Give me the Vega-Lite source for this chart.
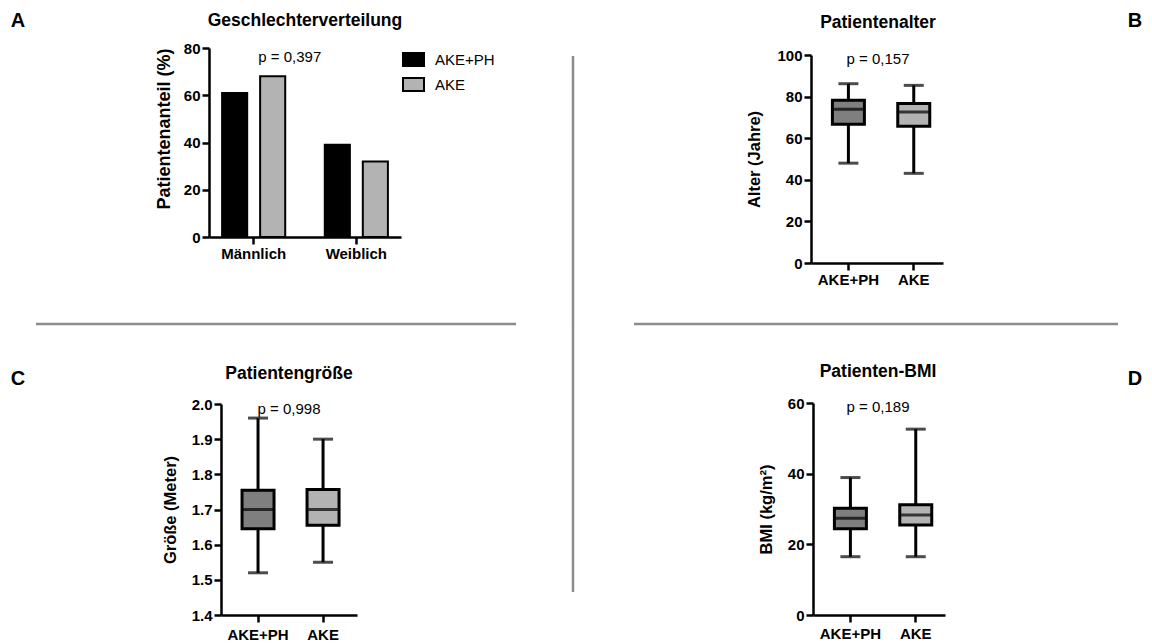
{
  "$schema": "https://vega.github.io/schema/vega-lite/v6.json",
  "padding": 0,
  "background": "white",
  "bounds": "flush",
  "spacing": 0,
  "columns": 11,
  "align": "each",
  "resolve": {"scale": {"color": "independent"}, "legend": {"color": "independent"}},
  "config": {
    "font": "Liberation Sans",
    "view": {"stroke": null},
    "axis": {"domainColor": "#000", "domainWidth": 2.5, "tickColor": "#000", "tickWidth": 2.5, "tickSize": 7, "labelColor": "#000", "labelFontSize": 15, "labelFontWeight": "bold", "labelPadding": 2, "labelOverlap": false, "labelBound": false, "titleColor": "#000", "titleFontSize": 16.5, "titleFontWeight": "bold", "titlePadding": 13, "grid": false},
    "axisX": {"labelAngle": 0},
    "title": {"fontSize": 17.5, "fontWeight": "bold", "color": "#000", "anchor": "middle", "frame": "group"},
    "text": {"color": "#000"},
    "rect": {"opacity": 0}
  },
  "concat": [
    {"width": 36, "height": 41, "data": {"values": [{"t": "A"}]}, "mark": {"type": "text", "fontSize": 20, "fontWeight": "bold"}, "encoding": {"text": {"field": "t", "type": "nominal"}}},
    {"width": 173, "height": 48, "data": {"values": [{}]}, "mark": "rect", "encoding": {}},
    {"width": 192, "height": 1, "data": {"values": [{}]}, "mark": "rect", "encoding": {}},
    {"width": 115, "height": 1, "data": {"values": [{}]}, "mark": "rect", "encoding": {}},
    {"width": 56, "height": 1, "data": {"values": [{}]}, "mark": "rect", "encoding": {}},
    {"width": 2, "height": 1, "data": {"values": [{}]}, "mark": "rect", "encoding": {}},
    {"width": 60, "height": 1, "data": {"values": [{}]}, "mark": "rect", "encoding": {}},
    {"width": 177, "height": 1, "data": {"values": [{}]}, "mark": "rect", "encoding": {}},
    {"width": 134, "height": 1, "data": {"values": [{}]}, "mark": "rect", "encoding": {}},
    {"width": 173, "height": 1, "data": {"values": [{}]}, "mark": "rect", "encoding": {}},
    {"width": 34, "height": 41, "data": {"values": [{"t": "B"}]}, "mark": {"type": "text", "fontSize": 20, "fontWeight": "bold"}, "encoding": {"text": {"field": "t", "type": "nominal"}}},

    {"width": 1, "height": 1, "data": {"values": [{}]}, "mark": "rect", "encoding": {}},
    {"width": 1, "height": 1, "data": {"values": [{}]}, "mark": "rect", "encoding": {}},
    {
      "width": 192, "height": 189,
      "title": {"text": "Geschlechterverteilung", "offset": 12},
      "data": {"values": [
        {"Geschlecht": "Männlich", "Gruppe": "AKE+PH", "Anteil": 61},
        {"Geschlecht": "Männlich", "Gruppe": "AKE", "Anteil": 68},
        {"Geschlecht": "Weiblich", "Gruppe": "AKE+PH", "Anteil": 39},
        {"Geschlecht": "Weiblich", "Gruppe": "AKE", "Anteil": 32}
      ]},
      "layer": [
        {
          "mark": {"type": "bar", "stroke": "#000", "strokeWidth": 2},
          "encoding": {
            "x": {"field": "Geschlecht", "type": "nominal", "sort": ["Männlich", "Weiblich"], "scale": {"paddingInner": 0.2, "paddingOuter": 0.035}, "axis": {"title": null}},
            "xOffset": {"field": "Gruppe", "type": "nominal", "sort": ["AKE+PH", "AKE"], "scale": {"paddingInner": 0.34, "paddingOuter": 0.25}},
            "y": {"field": "Anteil", "type": "quantitative", "scale": {"domain": [0, 80], "nice": false}, "axis": {"title": "Patientenanteil (%)", "values": [0, 20, 40, 60, 80], "labelOverlap": false, "titlePadding": 10, "titleFontSize": 18, "titleAnchor": "end"}},
            "color": {"field": "Gruppe", "type": "nominal", "sort": ["AKE+PH", "AKE"], "scale": {"domain": ["AKE+PH", "AKE"], "range": ["#000000", "#b3b3b3"]},
              "legend": {"title": null, "orient": "right", "offset": 1, "padding": 0, "symbolType": "M-1,-0.62H1V0.62H-1Z", "symbolSize": 441, "symbolStrokeColor": "#000", "symbolStrokeWidth": 2, "symbolOpacity": 1, "labelFontSize": 15, "labelColor": "#000", "labelOffset": 10, "rowPadding": 2}}
          }
        },
        {
          "data": {"values": [{"p": "p = 0,397"}]},
          "mark": {"type": "text", "fontSize": 15},
          "encoding": {"text": {"field": "p", "type": "nominal"}, "x": {"datum": "Männlich", "bandPosition": 0.94}, "y": {"datum": 76}}
        }
      ]
    },
    {"width": 1, "height": 1, "data": {"values": [{}]}, "mark": "rect", "encoding": {}},
    {"width": 1, "height": 1, "data": {"values": [{}]}, "mark": "rect", "encoding": {}},
    {"width": 2, "height": 275, "data": {"values": [{}]}, "mark": {"type": "rule", "color": "#8c8c8c", "strokeWidth": 2.5},
      "encoding": {"x": {"datum": 0.5, "type": "quantitative", "scale": {"domain": [0, 1]}, "axis": null}, "y": {"datum": 0, "type": "quantitative", "scale": {"domain": [0, 1], "range": [8, 275]}, "axis": null}, "y2": {"datum": 1}}},
    {"width": 1, "height": 1, "data": {"values": [{}]}, "mark": "rect", "encoding": {}},
    {"width": 1, "height": 1, "data": {"values": [{}]}, "mark": "rect", "encoding": {}},
    {
      "width": 134, "height": 215,
      "title": {"text": "Patientenalter", "offset": 17},
      "data": {"values": [
        {"Gruppe": "AKE+PH", "min": 48, "q1": 66.7, "median": 73.9, "q3": 78.2, "max": 86.2},
        {"Gruppe": "AKE", "min": 43.1, "q1": 65.8, "median": 72.6, "q3": 76.7, "max": 85.4}
      ]},
      "layer": [
        {"mark": {"type": "rule", "color": "#000", "strokeWidth": 3},
          "encoding": {
            "x": {"field": "Gruppe", "type": "nominal", "sort": ["AKE+PH", "AKE"], "scale": {"range": [0, 132], "paddingInner": 0.5, "paddingOuter": 0.26, "align": 0.62}, "axis": {"title": null}},
            "y": {"field": "min", "type": "quantitative", "scale": {"domain": [0, 100], "range": [215, 7], "nice": false}, "axis": {"title": "Alter (Jahre)", "values": [0, 20, 40, 60, 80, 100], "labelOverlap": false, "titlePadding": 14}},
            "y2": {"field": "max"}}},
        {"mark": {"type": "bar", "width": 32, "stroke": "#000", "strokeWidth": 3, "opacity": 1},
          "encoding": {
            "x": {"field": "Gruppe", "type": "nominal", "sort": ["AKE+PH", "AKE"]},
            "y": {"field": "q1", "type": "quantitative"}, "y2": {"field": "q3"},
            "fill": {"field": "Gruppe", "type": "nominal", "scale": {"domain": ["AKE+PH", "AKE"], "range": ["#7f7f7f", "#b3b3b3"]}, "legend": null}}},
        {"mark": {"type": "tick", "color": "#000", "thickness": 3, "size": 32},
          "encoding": {"x": {"field": "Gruppe", "type": "nominal", "sort": ["AKE+PH", "AKE"]}, "y": {"field": "median", "type": "quantitative"}}},
        {"mark": {"type": "tick", "color": "#000", "thickness": 3, "size": 20},
          "encoding": {"x": {"field": "Gruppe", "type": "nominal", "sort": ["AKE+PH", "AKE"]}, "y": {"field": "min", "type": "quantitative"}}},
        {"mark": {"type": "tick", "color": "#000", "thickness": 3, "size": 20},
          "encoding": {"x": {"field": "Gruppe", "type": "nominal", "sort": ["AKE+PH", "AKE"]}, "y": {"field": "max", "type": "quantitative"}}},
        {"data": {"values": [{"p": "p = 0,157"}]}, "mark": {"type": "text", "fontSize": 15},
          "encoding": {"text": {"field": "p", "type": "nominal"}, "y": {"datum": 98}}}
      ]
    },
    {"width": 1, "height": 1, "data": {"values": [{}]}, "mark": "rect", "encoding": {}},
    {"width": 1, "height": 1, "data": {"values": [{}]}, "mark": "rect", "encoding": {}},

    {"width": 1, "height": 1, "data": {"values": [{}]}, "mark": "rect", "encoding": {}},
    {"width": 173, "height": 2, "data": {"values": [{}]}, "mark": {"type": "rule", "color": "#8c8c8c", "strokeWidth": 2.5},
      "encoding": {"x": {"datum": 0, "type": "quantitative", "scale": {"domain": [0, 1]}, "axis": null}, "x2": {"datum": 1}, "y": {"datum": 0.5, "type": "quantitative", "scale": {"domain": [0, 1]}, "axis": null}}},
    {"width": 192, "height": 2, "data": {"values": [{}]}, "mark": {"type": "rule", "color": "#8c8c8c", "strokeWidth": 2.5},
      "encoding": {"x": {"datum": 0, "type": "quantitative", "scale": {"domain": [0, 1]}, "axis": null}, "x2": {"datum": 1}, "y": {"datum": 0.5, "type": "quantitative", "scale": {"domain": [0, 1]}, "axis": null}}},
    {"width": 115, "height": 2, "data": {"values": [{}]}, "mark": {"type": "rule", "color": "#8c8c8c", "strokeWidth": 2.5},
      "encoding": {"x": {"datum": 0, "type": "quantitative", "scale": {"domain": [0, 1]}, "axis": null}, "x2": {"datum": 1}, "y": {"datum": 0.5, "type": "quantitative", "scale": {"domain": [0, 1]}, "axis": null}}},
    {"width": 1, "height": 1, "data": {"values": [{}]}, "mark": "rect", "encoding": {}},
    {"width": 2, "height": 2, "data": {"values": [{}]}, "mark": {"type": "rule", "color": "#8c8c8c", "strokeWidth": 2.5},
      "encoding": {"x": {"datum": 0.5, "type": "quantitative", "scale": {"domain": [0, 1]}, "axis": null}, "y": {"datum": 0, "type": "quantitative", "scale": {"domain": [0, 1]}, "axis": null}, "y2": {"datum": 1}}},
    {"width": 1, "height": 1, "data": {"values": [{}]}, "mark": "rect", "encoding": {}},
    {"width": 177, "height": 2, "data": {"values": [{}]}, "mark": {"type": "rule", "color": "#8c8c8c", "strokeWidth": 2.5},
      "encoding": {"x": {"datum": 0, "type": "quantitative", "scale": {"domain": [0, 1]}, "axis": null}, "x2": {"datum": 1}, "y": {"datum": 0.5, "type": "quantitative", "scale": {"domain": [0, 1]}, "axis": null}}},
    {"width": 134, "height": 2, "data": {"values": [{}]}, "mark": {"type": "rule", "color": "#8c8c8c", "strokeWidth": 2.5},
      "encoding": {"x": {"datum": 0, "type": "quantitative", "scale": {"domain": [0, 1]}, "axis": null}, "x2": {"datum": 1}, "y": {"datum": 0.5, "type": "quantitative", "scale": {"domain": [0, 1]}, "axis": null}}},
    {"width": 173, "height": 2, "data": {"values": [{}]}, "mark": {"type": "rule", "color": "#8c8c8c", "strokeWidth": 2.5},
      "encoding": {"x": {"datum": 0, "type": "quantitative", "scale": {"domain": [0, 1]}, "axis": null}, "x2": {"datum": 1}, "y": {"datum": 0.5, "type": "quantitative", "scale": {"domain": [0, 1]}, "axis": null}}},
    {"width": 1, "height": 1, "data": {"values": [{}]}, "mark": "rect", "encoding": {}},

    {"width": 1, "height": 1, "data": {"values": [{}]}, "mark": "rect", "encoding": {}},
    {"width": 1, "height": 1, "data": {"values": [{}]}, "mark": "rect", "encoding": {}},
    {"width": 1, "height": 1, "data": {"values": [{}]}, "mark": "rect", "encoding": {}},
    {"width": 1, "height": 1, "data": {"values": [{}]}, "mark": "rect", "encoding": {}},
    {"width": 1, "height": 1, "data": {"values": [{}]}, "mark": "rect", "encoding": {}},
    {"width": 2, "height": 34, "data": {"values": [{}]}, "mark": {"type": "rule", "color": "#8c8c8c", "strokeWidth": 2.5},
      "encoding": {"x": {"datum": 0.5, "type": "quantitative", "scale": {"domain": [0, 1]}, "axis": null}, "y": {"datum": 0, "type": "quantitative", "scale": {"domain": [0, 1]}, "axis": null}, "y2": {"datum": 1}}},
    {"width": 1, "height": 1, "data": {"values": [{}]}, "mark": "rect", "encoding": {}},
    {"width": 1, "height": 1, "data": {"values": [{}]}, "mark": "rect", "encoding": {}},
    {"width": 1, "height": 1, "data": {"values": [{}]}, "mark": "rect", "encoding": {}},
    {"width": 1, "height": 1, "data": {"values": [{}]}, "mark": "rect", "encoding": {}},
    {"width": 1, "height": 1, "data": {"values": [{}]}, "mark": "rect", "encoding": {}},

    {"width": 36, "height": 40, "data": {"values": [{"t": "C"}]}, "mark": {"type": "text", "fontSize": 20, "fontWeight": "bold"}, "encoding": {"text": {"field": "t", "type": "nominal"}}},
    {"width": 1, "height": 1, "data": {"values": [{}]}, "mark": "rect", "encoding": {}},
    {"width": 1, "height": 1, "data": {"values": [{}]}, "mark": "rect", "encoding": {}},
    {"width": 1, "height": 1, "data": {"values": [{}]}, "mark": "rect", "encoding": {}},
    {"width": 1, "height": 1, "data": {"values": [{}]}, "mark": "rect", "encoding": {}},
    {"width": 2, "height": 44, "data": {"values": [{}]}, "mark": {"type": "rule", "color": "#8c8c8c", "strokeWidth": 2.5},
      "encoding": {"x": {"datum": 0.5, "type": "quantitative", "scale": {"domain": [0, 1]}, "axis": null}, "y": {"datum": 0, "type": "quantitative", "scale": {"domain": [0, 1]}, "axis": null}, "y2": {"datum": 1}}},
    {"width": 1, "height": 1, "data": {"values": [{}]}, "mark": "rect", "encoding": {}},
    {"width": 1, "height": 1, "data": {"values": [{}]}, "mark": "rect", "encoding": {}},
    {"width": 1, "height": 1, "data": {"values": [{}]}, "mark": "rect", "encoding": {}},
    {"width": 1, "height": 1, "data": {"values": [{}]}, "mark": "rect", "encoding": {}},
    {"width": 34, "height": 40, "data": {"values": [{"t": "D"}]}, "mark": {"type": "text", "fontSize": 20, "fontWeight": "bold"}, "encoding": {"text": {"field": "t", "type": "nominal"}}},

    {"width": 1, "height": 1, "data": {"values": [{}]}, "mark": "rect", "encoding": {}},
    {"width": 1, "height": 1, "data": {"values": [{}]}, "mark": "rect", "encoding": {}},
    {
      "width": 160, "height": 212,
      "title": {"text": "Patientengröße", "offset": 15},
      "data": {"values": [
        {"Gruppe": "AKE+PH", "min": 1.52, "q1": 1.645, "median": 1.70, "q3": 1.755, "max": 1.96},
        {"Gruppe": "AKE", "min": 1.55, "q1": 1.655, "median": 1.70, "q3": 1.757, "max": 1.90}
      ]},
      "layer": [
        {"mark": {"type": "rule", "color": "#000", "strokeWidth": 3},
          "encoding": {
            "x": {"field": "Gruppe", "type": "nominal", "sort": ["AKE+PH", "AKE"], "scale": {"range": [12, 148], "paddingInner": 0.5, "paddingOuter": 0.296, "align": 0.54}, "axis": {"title": null, "labelPadding": 5}},
            "y": {"field": "min", "type": "quantitative", "scale": {"domain": [1.4, 2.0], "range": [212, 1], "nice": false, "zero": false}, "axis": {"title": "Größe (Meter)", "offset": -12, "values": [1.4, 1.5, 1.6, 1.7, 1.8, 1.9, 2.0], "tickCount": 7, "labelOverlap": false, "format": ".1f"}},
            "y2": {"field": "max"}}},
        {"mark": {"type": "bar", "width": 32, "stroke": "#000", "strokeWidth": 3, "opacity": 1},
          "encoding": {
            "x": {"field": "Gruppe", "type": "nominal", "sort": ["AKE+PH", "AKE"]},
            "y": {"field": "q1", "type": "quantitative"}, "y2": {"field": "q3"},
            "fill": {"field": "Gruppe", "type": "nominal", "scale": {"domain": ["AKE+PH", "AKE"], "range": ["#7f7f7f", "#b3b3b3"]}, "legend": null}}},
        {"mark": {"type": "tick", "color": "#000", "thickness": 3, "size": 32},
          "encoding": {"x": {"field": "Gruppe", "type": "nominal", "sort": ["AKE+PH", "AKE"]}, "y": {"field": "median", "type": "quantitative"}}},
        {"mark": {"type": "tick", "color": "#000", "thickness": 3, "size": 20},
          "encoding": {"x": {"field": "Gruppe", "type": "nominal", "sort": ["AKE+PH", "AKE"]}, "y": {"field": "min", "type": "quantitative"}}},
        {"mark": {"type": "tick", "color": "#000", "thickness": 3, "size": 20},
          "encoding": {"x": {"field": "Gruppe", "type": "nominal", "sort": ["AKE+PH", "AKE"]}, "y": {"field": "max", "type": "quantitative"}}},
        {"data": {"values": [{"p": "p = 0,998"}]}, "mark": {"type": "text", "fontSize": 15},
          "encoding": {"text": {"field": "p", "type": "nominal"}, "y": {"datum": 1.986}}}
      ]
    },
    {"width": 1, "height": 1, "data": {"values": [{}]}, "mark": "rect", "encoding": {}},
    {"width": 1, "height": 1, "data": {"values": [{}]}, "mark": "rect", "encoding": {}},
    {"width": 2, "height": 189, "data": {"values": [{}]}, "mark": {"type": "rule", "color": "#8c8c8c", "strokeWidth": 2.5},
      "encoding": {"x": {"datum": 0.5, "type": "quantitative", "scale": {"domain": [0, 1]}, "axis": null}, "y": {"datum": 0, "type": "quantitative", "scale": {"domain": [0, 1]}, "axis": null}, "y2": {"datum": 1}}},
    {"width": 1, "height": 1, "data": {"values": [{}]}, "mark": "rect", "encoding": {}},
    {"width": 1, "height": 1, "data": {"values": [{}]}, "mark": "rect", "encoding": {}},
    {
      "width": 134, "height": 212,
      "title": {"text": "Patienten-BMI", "offset": 16},
      "data": {"values": [
        {"Gruppe": "AKE+PH", "min": 16.5, "q1": 24.4, "median": 27.4, "q3": 30.2, "max": 38.9},
        {"Gruppe": "AKE", "min": 16.5, "q1": 25.5, "median": 28.3, "q3": 31.2, "max": 52.6}
      ]},
      "layer": [
        {"mark": {"type": "rule", "color": "#000", "strokeWidth": 3},
          "encoding": {
            "x": {"field": "Gruppe", "type": "nominal", "sort": ["AKE+PH", "AKE"], "scale": {"range": [2, 134], "paddingInner": 0.5, "paddingOuter": 0.26, "align": 0.62}, "axis": {"title": null, "labelPadding": 4}},
            "y": {"field": "min", "type": "quantitative", "scale": {"domain": [0, 60], "nice": false}, "axis": {"title": "BMI (kg/m²)", "offset": -2, "values": [0, 20, 40, 60], "labelOverlap": false}},
            "y2": {"field": "max"}}},
        {"mark": {"type": "bar", "width": 32, "stroke": "#000", "strokeWidth": 3, "opacity": 1},
          "encoding": {
            "x": {"field": "Gruppe", "type": "nominal", "sort": ["AKE+PH", "AKE"]},
            "y": {"field": "q1", "type": "quantitative"}, "y2": {"field": "q3"},
            "fill": {"field": "Gruppe", "type": "nominal", "scale": {"domain": ["AKE+PH", "AKE"], "range": ["#7f7f7f", "#b3b3b3"]}, "legend": null}}},
        {"mark": {"type": "tick", "color": "#000", "thickness": 3, "size": 32},
          "encoding": {"x": {"field": "Gruppe", "type": "nominal", "sort": ["AKE+PH", "AKE"]}, "y": {"field": "median", "type": "quantitative"}}},
        {"mark": {"type": "tick", "color": "#000", "thickness": 3, "size": 20},
          "encoding": {"x": {"field": "Gruppe", "type": "nominal", "sort": ["AKE+PH", "AKE"]}, "y": {"field": "min", "type": "quantitative"}}},
        {"mark": {"type": "tick", "color": "#000", "thickness": 3, "size": 20},
          "encoding": {"x": {"field": "Gruppe", "type": "nominal", "sort": ["AKE+PH", "AKE"]}, "y": {"field": "max", "type": "quantitative"}}},
        {"data": {"values": [{"p": "p = 0,189"}]}, "mark": {"type": "text", "fontSize": 15},
          "encoding": {"text": {"field": "p", "type": "nominal"}, "y": {"datum": 59}}}
      ]
    }
  ]
}
